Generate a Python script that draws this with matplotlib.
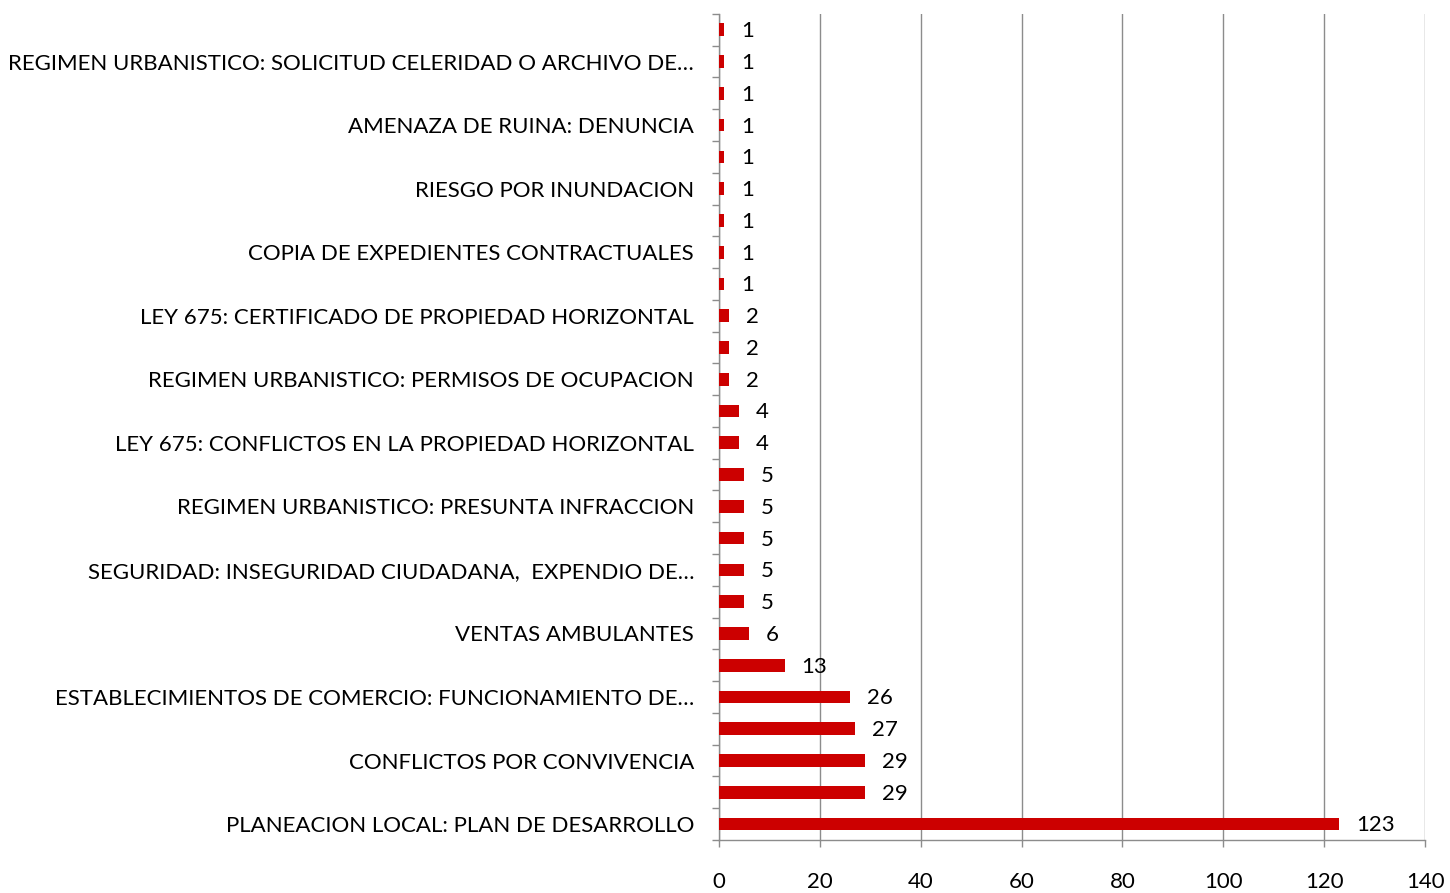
import matplotlib.pyplot as plt
import numpy as np

# categories from bottom to top (hidden labels left blank, as in the source chart)
categories = [
    "PLANEACION LOCAL: PLAN DE DESARROLLO", "",
    "CONFLICTOS POR CONVIVENCIA", "",
    "ESTABLECIMIENTOS DE COMERCIO: FUNCIONAMIENTO DE…", "",
    "VENTAS AMBULANTES", "",
    "SEGURIDAD: INSEGURIDAD CIUDADANA,  EXPENDIO DE…", "",
    "REGIMEN URBANISTICO: PRESUNTA INFRACCION", "",
    "LEY 675: CONFLICTOS EN LA PROPIEDAD HORIZONTAL", "",
    "REGIMEN URBANISTICO: PERMISOS DE OCUPACION", "",
    "LEY 675: CERTIFICADO DE PROPIEDAD HORIZONTAL", "",
    "COPIA DE EXPEDIENTES CONTRACTUALES", "",
    "RIESGO POR INUNDACION", "",
    "AMENAZA DE RUINA: DENUNCIA", "",
    "REGIMEN URBANISTICO: SOLICITUD CELERIDAD O ARCHIVO DE…", "",
]
values = [123, 29, 29, 27, 26, 13, 6, 5, 5, 5, 5, 5, 4, 4,
          2, 2, 2, 1, 1, 1, 1, 1, 1, 1, 1, 1]
x_ticks = [0, 20, 40, 60, 80, 100, 120, 140]

bar_color = "#cc0000"
axis_color = "#8c8c8c"
font = "Lato"
fsize = 16

fig = plt.figure(figsize=(14.5, 8.93), dpi=100, facecolor="white")
ax = fig.add_axes([0.4959, 0.0594, 0.4869, 0.925])

ypos = np.arange(len(values))
bars = ax.barh(ypos, values, height=0.4, color=bar_color, zorder=3)

for bar in bars:
    w = bar.get_width()
    ax.annotate(
        f"{int(w)}",
        xy=(w, bar.get_y() + bar.get_height() / 2),
        xytext=(12, -1),
        textcoords="offset points",
        va="center",
        ha="left",
        fontsize=fsize,
        fontname=font,
        color="black",
    )

ax.set_xlim(0, 140)
ax.set_ylim(-0.5, len(values) - 0.5)
ax.set_xticks(x_ticks)
ax.set_xticklabels([str(t) for t in x_ticks], fontsize=fsize, fontname=font)
ax.set_yticks(ypos)
ax.set_yticklabels(categories, fontsize=fsize, fontname=font)
ax.set_yticks(np.arange(-0.5, len(values), 1.0), minor=True)

ax.tick_params(axis="y", which="major", length=0, pad=18)
ax.tick_params(axis="y", which="minor", length=5, color=axis_color, width=1)
ax.tick_params(axis="x", which="major", length=5, color=axis_color, width=1, pad=18)

ax.grid(True, axis="x", color=axis_color, linewidth=1, zorder=0)
for side in ["top", "right"]:
    ax.spines[side].set_visible(False)
for side in ["left", "bottom"]:
    ax.spines[side].set_color(axis_color)
    ax.spines[side].set_linewidth(1)

plt.savefig("out.png", dpi=100, facecolor="white")
